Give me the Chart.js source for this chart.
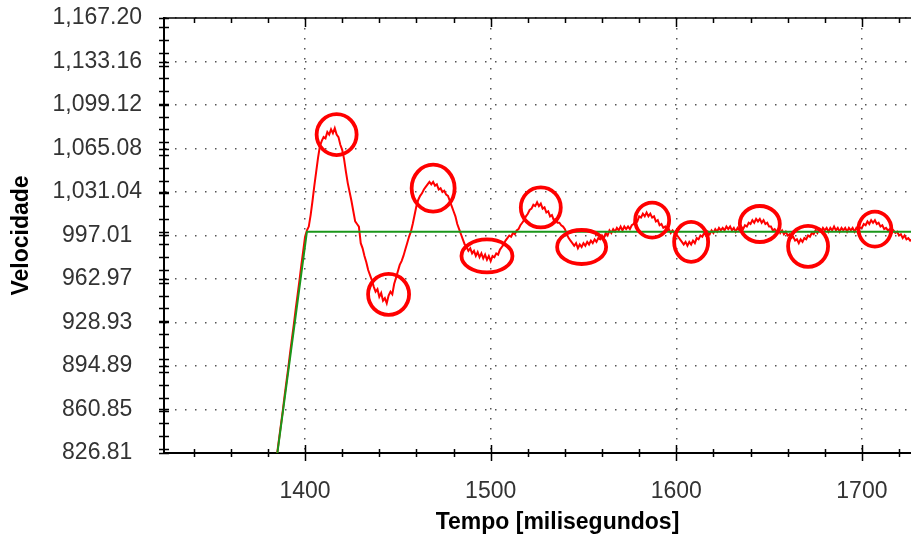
<!DOCTYPE html>
<html>
<head>
<meta charset="utf-8">
<script src="https://cdn.jsdelivr.net/npm/chart.js@4.4.1/dist/chart.umd.min.js"></script>
<style>
  html, body { margin: 0; padding: 0; background: #fff; overflow: hidden; }
  #wrap { width: 911px; height: 537px; overflow: hidden; }
</style>
</head>
<body>
<div id="wrap"><canvas id="speedChart" width="960" height="537"></canvas></div>
<script>
// measured speed, one sample per millisecond starting at t0
const t0 = 1384;
const speed = [
  815, 827, 838, 849, 860, 872, 883, 894, 906, 917,
  928, 940, 951, 962, 974, 985, 996, 1001, 1004, 1013,
  1024, 1036, 1047, 1058, 1067, 1071, 1074, 1073, 1078, 1076,
  1080, 1077, 1081, 1076, 1074, 1068, 1064, 1057, 1047, 1038,
  1031, 1024, 1016, 1008, 1006, 1004, 991, 987, 981, 976,
  970, 966, 962, 957, 953, 955, 949, 952, 946, 948,
  944, 950, 953, 951, 959, 964, 969, 974, 977, 981,
  986, 991, 996, 1000, 1006, 1013, 1020, 1025, 1028, 1030,
  1033, 1035, 1037, 1039, 1037, 1039, 1036, 1037, 1033, 1034,
  1031, 1032, 1029, 1028, 1024, 1020, 1016, 1012, 1006, 1002,
  998, 994, 990, 988, 985, 987, 983, 985, 981, 984,
  980, 983, 979, 982, 978, 981, 977, 981, 980, 983,
  982, 986, 988, 990, 993, 995, 997, 996, 999, 998,
  1001, 1002, 1005, 1007, 1009, 1012, 1014, 1017, 1018, 1021,
  1020, 1023, 1020, 1022, 1018, 1019, 1015, 1016, 1012, 1013,
  1009, 1010, 1007, 1007, 1005, 1004, 1002, 998, 995, 993,
  991, 989, 991, 987, 990, 988, 991, 989, 992, 990,
  993, 991, 994, 992, 995, 994, 997, 995, 999, 997,
  1001, 999, 1002, 1000, 1003, 1001, 1004, 1001, 1004, 1002,
  1004, 1002, 1005, 1006, 1009, 1008, 1012, 1011, 1014, 1012,
  1015, 1012, 1014, 1011, 1012, 1008, 1009, 1005, 1006, 1003,
  1004, 1001, 1002, 999, 1001, 999, 998, 996, 994, 992,
  990, 992, 989, 992, 990, 993, 991, 995, 994, 997,
  996, 999, 997, 1000, 998, 1001, 999, 1002, 1000, 1003,
  1001, 1003, 1001, 1004, 1002, 1004, 1001, 1003, 1000, 1003,
  1001, 1004, 1002, 1005, 1004, 1007, 1006, 1009, 1007, 1010,
  1008, 1010, 1007, 1009, 1006, 1007, 1004, 1004, 1001, 1002,
  1000, 1002, 999, 1001, 998, 1000, 997, 998, 995, 996,
  993, 994, 991, 994, 992, 995, 994, 997, 996, 999,
  998, 1001, 999, 1002, 1000, 1003, 1001, 1003, 1000, 1003,
  1001, 1004, 1001, 1003, 1000, 1003, 1001, 1003, 1000, 1003,
  1001, 1003, 1000, 1003, 1001, 1003, 1003, 1006, 1005, 1008,
  1006, 1009, 1007, 1009, 1006, 1007, 1004, 1005, 1002, 1003,
  1001, 1002, 999, 1001, 999, 1000, 997, 998, 995, 997,
  994, 995, 993, 994, 992, 994, 993
];

// setpoint (reference ramp, then constant)
const setTime = [1384, 1401, 1748];
const setSpeed = [815, 1000, 1000];

// rings marking the overshoots
const ringTime = [1417, 1445, 1469, 1498, 1527, 1549, 1587, 1608, 1645, 1671, 1707];
const ringSpeed = [1076, 951, 1034, 981, 1019, 988, 1009, 992, 1006, 988.5, 1002];
const ringRx = [20, 20.5, 21.5, 25.5, 20, 24.5, 17, 17, 20, 20, 16.5];
const ringRy = [20.5, 20.5, 23.5, 16.5, 20, 17, 17.5, 20, 18, 20.5, 17.5];

const xTickLabels = ['1400', '1500', '1600', '1700'];
const yTickLabels = ['826.81', '860.85', '894.89', '928.93', '962.97', '997.01',
                     '1,031.04', '1,065.08', '1,099.12', '1,133.16', '1,167.20'];
const xTickValues = xTickLabels.map(Number);
const yTickValues = yTickLabels.map(s => parseFloat(s.replace(',', '')));

const X_MIN = 1324, X_MAX = 1748;
const FONT = "'Liberation Sans', Arial, sans-serif";

const speedPoints = speed.map((v, i) => ({ x: t0 + i, y: v }));
const setPoints = setTime.map((t, i) => ({ x: t, y: setSpeed[i] }));

// no extra room for labels hanging past the plot edges
const noOverhang = s => {
  s.paddingTop = 0; s.paddingBottom = 0;
  s.paddingLeft = 0; s.paddingRight = 0;
};

// minor ticks on the frame + the red rings
const frameMarks = {
  id: 'frameMarks',
  afterDatasetsDraw(chart) {
    const { ctx } = chart;
    const xs = chart.scales.x, ys = chart.scales.y;
    ctx.save();
    ctx.beginPath();
    ringTime.forEach((t, i) => {
      const cx = xs.getPixelForValue(t), cy = ys.getPixelForValue(ringSpeed[i]);
      ctx.moveTo(cx + ringRx[i], cy);
      ctx.ellipse(cx, cy, ringRx[i], ringRy[i], 0, 0, Math.PI * 2);
    });
    ctx.strokeStyle = '#ff0000';
    ctx.lineWidth = 3.8;
    ctx.stroke();
    ctx.restore();
  },
  afterDraw(chart) {
    const { ctx, chartArea: a } = chart;
    const xs = chart.scales.x, ys = chart.scales.y;
    ctx.save();
    ctx.strokeStyle = '#000';
    ctx.lineWidth = 1.5;
    ctx.beginPath();
    ctx.moveTo(a.left, a.top);
    ctx.lineTo(a.right, a.top);
    for (let t = 1340; t <= X_MAX; t += 20) {
      const px = Math.round(xs.getPixelForValue(t)) + 0.5;
      const big = t % 100 === 0 ? 8 : 4;
      ctx.moveTo(px, a.bottom - big);
      ctx.lineTo(px, a.bottom + big);
      ctx.moveTo(px, a.top);
      ctx.lineTo(px, a.top + big + 1);
    }
    const yMarks = [];
    for (let v = 830; v < 1167; v += 10) yMarks.push(v);
    yMarks.concat(yTickValues).forEach(v => {
      const py = Math.round(ys.getPixelForValue(v)) + 0.5;
      ctx.moveTo(a.left - 5, py);
      ctx.lineTo(a.left + 5, py);
    });
    ctx.stroke();
    ctx.restore();
  }
};

new Chart(document.getElementById('speedChart'), {
  type: 'line',
  data: {
    datasets: [
      {
        label: 'Setpoint',
        data: setPoints,
        borderColor: '#1a961a',
        borderWidth: 2,
        pointRadius: 0,
        tension: 0
      },
      {
        label: 'Velocidade',
        data: speedPoints,
        borderColor: '#ff0000',
        borderWidth: 2,
        pointRadius: 0,
        tension: 0
      }
    ]
  },
  options: {
    responsive: false,
    animation: false,
    devicePixelRatio: 1,
    layout: { padding: { top: 18, right: 9, left: 0, bottom: 0 } },
    plugins: {
      legend: { display: false },
      tooltip: { enabled: false }
    },
    scales: {
      x: {
        type: 'linear',
        min: X_MIN,
        max: X_MAX,
        afterBuildTicks: s => { s.ticks = xTickValues.map(v => ({ value: v })); },
        afterFit: s => { s.height = 84; noOverhang(s); },
        ticks: {
          autoSkip: false,
          maxRotation: 0,
          padding: 25,
          color: '#333',
          font: { family: FONT, size: 23 },
          callback: (v, i) => xTickLabels[i]
        },
        grid: { color: '#555', lineWidth: 1.5, drawTicks: false },
        border: { display: true, color: '#000', width: 2, dash: [1.5, 8.5] },
        title: {
          display: true,
          text: 'Tempo [milisegundos]',
          color: '#000',
          font: { family: FONT, size: 23, weight: 'bold' },
          padding: { top: 0, bottom: 1 }
        }
      },
      y: {
        min: yTickValues[0],
        max: yTickValues[yTickValues.length - 1],
        afterBuildTicks: s => { s.ticks = yTickValues.map(v => ({ value: v })); },
        afterFit: s => { s.width = 164; noOverhang(s); },
        ticks: {
          autoSkip: false,
          crossAlign: 'center',
          padding: 22,
          color: '#333',
          font: { family: FONT, size: 23 },
          callback: (v, i) => yTickLabels[i]
        },
        grid: { color: '#555', lineWidth: 1.5, drawTicks: false },
        border: { display: true, color: '#000', width: 2, dash: [1.5, 8.5] },
        title: {
          display: true,
          text: 'Velocidade',
          color: '#000',
          font: { family: FONT, size: 23, weight: 'bold' },
          padding: { top: 8, bottom: 0 }
        }
      }
    }
  },
  plugins: [frameMarks]
});
</script>
</body>
</html>
